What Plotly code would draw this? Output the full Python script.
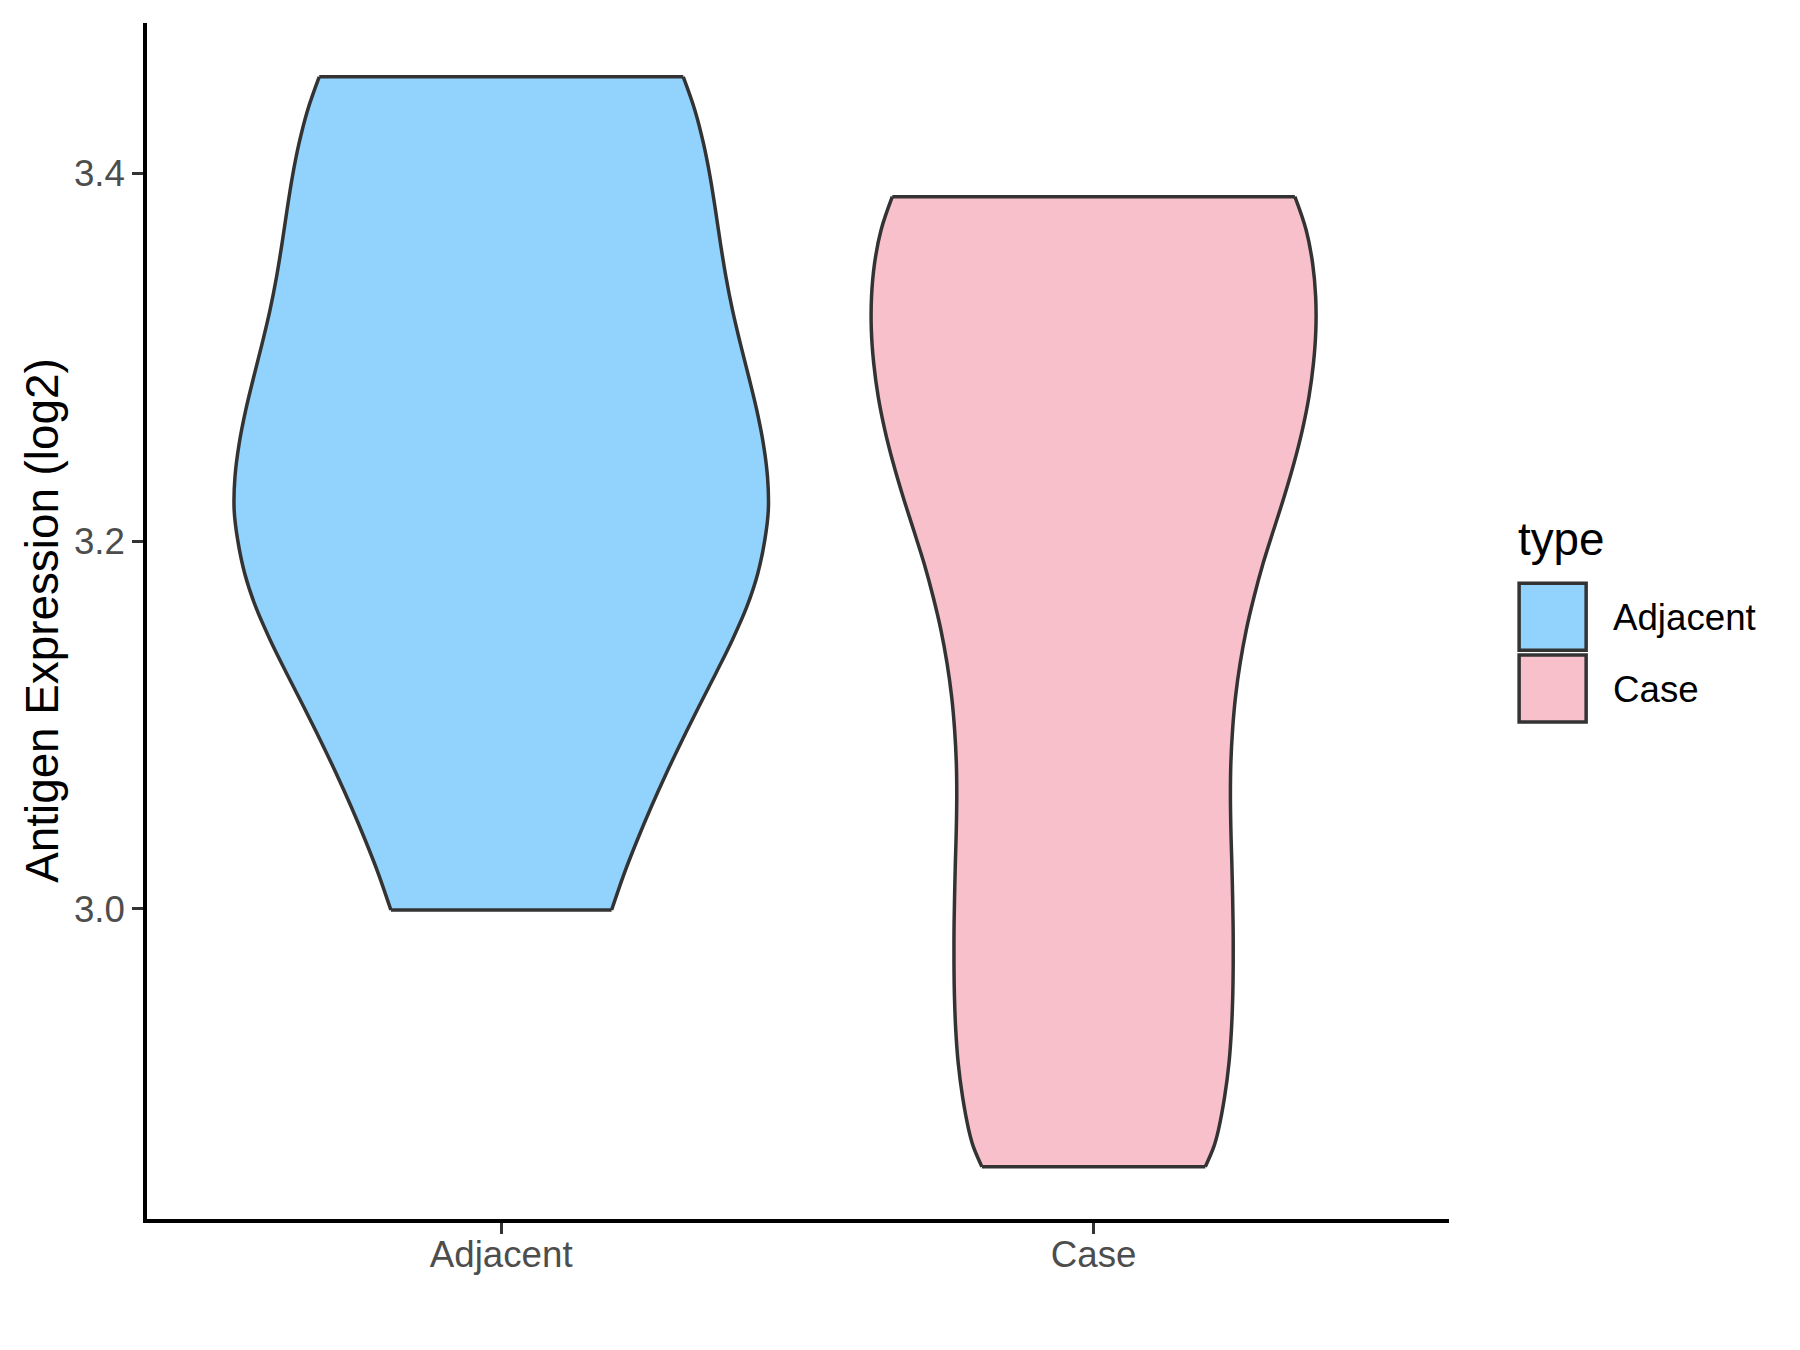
import plotly.graph_objects as go

categories = ["Adjacent", "Case"]
fill_colors = ["#92D3FE", "#F7C0CB"]
legend_title = "type"
y_title = "Antigen Expression (log2)"
y_ticks = [3.0, 3.2, 3.4]

# violin outlines: y level -> half width (in category units)
adjacent_y = [2.9993, 3.0193, 3.0374, 3.0555, 3.0736, 3.0918, 3.1099, 3.1280, 3.1462, 3.1643,
              3.1824, 3.2005, 3.2169, 3.2350, 3.2531, 3.2713, 3.2894, 3.3075, 3.3256, 3.3438,
              3.3619, 3.3800, 3.3982, 3.4163, 3.4344, 3.4525]
adjacent_hw = [0.1863, 0.2077, 0.2297, 0.2533, 0.2786, 0.3056, 0.3335, 0.3622, 0.3901, 0.4146,
               0.4331, 0.4449, 0.4509, 0.4495, 0.4424, 0.4313, 0.4178, 0.4036, 0.3904, 0.3793,
               0.3701, 0.3617, 0.3526, 0.3414, 0.3269, 0.3073]

case_y = [2.8597, 2.8706, 2.8796, 2.8977, 2.9159, 2.9340, 2.9521, 2.9703, 2.9884, 3.0065,
          3.0247, 3.0428, 3.0609, 3.0791, 3.0972, 3.1153, 3.1335, 3.1516, 3.1697, 3.1879,
          3.2060, 3.2241, 3.2423, 3.2604, 3.2785, 3.2967, 3.3148, 3.3329, 3.3510, 3.3692,
          3.3873]
case_hw = [0.1886, 0.2030, 0.2107, 0.2212, 0.2285, 0.2327, 0.2349, 0.2357, 0.2356, 0.2347,
           0.2334, 0.2318, 0.2310, 0.2317, 0.2346, 0.2396, 0.2474, 0.2577, 0.2709, 0.2862,
           0.3038, 0.3217, 0.3382, 0.3524, 0.3636, 0.3712, 0.3752, 0.3749, 0.3698, 0.3588,
           0.3398]

violins = [(adjacent_y, adjacent_hw), (case_y, case_hw)]

# page has an 8px body margin, so the figure is drawn 8px in from the top-left
OFF = 8
W, H = 1792, 1342
AXIS_LW = 3.5
# plot area (figure px); plotly draws axis lines half a line width outside it
ML, MT, PW, PH = 139.25, 15, 1301.65, 1195.95
MR, MB = W - ML - PW, H - MT - PH
X_RANGE = [0.40197, 2.6]
Y_RANGE = [2.83125, 3.4818]
FONT = "Liberation Sans, Arial, sans-serif"
OUTLINE = "#333333"
LW = 3.5


def px_x(p):
    # page pixel -> paper x
    return (p - OFF - ML) / PW


def px_y(p):
    # page pixel -> paper y
    return (MT + PH - (p - OFF)) / PH


fig = go.Figure()

for i, (ys, hw) in enumerate(violins):
    pos = i + 1
    line = dict(color=OUTLINE, width=LW, shape="spline", smoothing=1.0, simplify=False)
    fig.add_trace(go.Scatter(x=[pos - w for w in hw], y=ys, mode="lines", line=line,
                             showlegend=False, hoverinfo="skip"))
    fig.add_trace(go.Scatter(x=[pos + w for w in hw], y=ys, mode="lines", line=line,
                             fill="tonextx", fillcolor=fill_colors[i],
                             showlegend=False, hoverinfo="skip"))
    # flat top and bottom edges
    fig.add_trace(go.Scatter(
        x=[pos - hw[-1], pos + hw[-1], None, pos - hw[0], pos + hw[0]],
        y=[ys[-1], ys[-1], None, ys[0], ys[0]],
        mode="lines", line=dict(color=OUTLINE, width=LW),
        showlegend=False, hoverinfo="skip"))

fig.update_xaxes(
    range=X_RANGE, tickvals=[1, 2], ticktext=categories,
    showline=True, linecolor="black", linewidth=AXIS_LW,
    ticks="outside", ticklen=11, tickwidth=3, tickcolor=OUTLINE,
    tickfont=dict(family=FONT, size=36.7, color="#4D4D4D"),
    showgrid=False, zeroline=False, ticklabelstandoff=-11,
)
fig.update_yaxes(
    range=Y_RANGE, tickvals=y_ticks, ticktext=[f"{v:.1f}" for v in y_ticks],
    showline=True, linecolor="black", linewidth=AXIS_LW,
    ticks="outside", ticklen=11, tickwidth=3, tickcolor=OUTLINE,
    tickfont=dict(family=FONT, size=36.7, color="#4D4D4D"),
    showgrid=False, zeroline=False, ticklabelstandoff=0,
)

annotations = [
    dict(text=y_title, x=px_x(42), y=px_y(621), xref="paper", yref="paper", textangle=-90,
         showarrow=False, xanchor="center", yanchor="middle",
         font=dict(family=FONT, size=45.8, color="black")),
    dict(text=legend_title, x=px_x(1516), y=px_y(539), xref="paper", yref="paper",
         showarrow=False, xanchor="left", yanchor="middle",
         font=dict(family=FONT, size=45.8, color="black")),
]
shapes = []
key_tops = [583.3, 655.0]
for i, cat in enumerate(categories):
    top = key_tops[i]
    shapes.append(dict(type="rect", xref="paper", yref="paper",
                       x0=px_x(1519), x1=px_x(1586), y0=px_y(top + 67), y1=px_y(top),
                       fillcolor=fill_colors[i], line=dict(color=OUTLINE, width=LW)))
    annotations.append(dict(text=cat, x=px_x(1611), y=px_y(top + 34.5), xref="paper", yref="paper",
                            showarrow=False, xanchor="left", yanchor="middle",
                            font=dict(family=FONT, size=36.7, color="black")))

fig.update_layout(
    width=W, height=H,
    margin=dict(l=ML, r=MR, t=MT, b=MB, autoexpand=False),
    plot_bgcolor="white", paper_bgcolor="white",
    showlegend=False,
    annotations=annotations, shapes=shapes,
)

fig.write_html("out.html")
